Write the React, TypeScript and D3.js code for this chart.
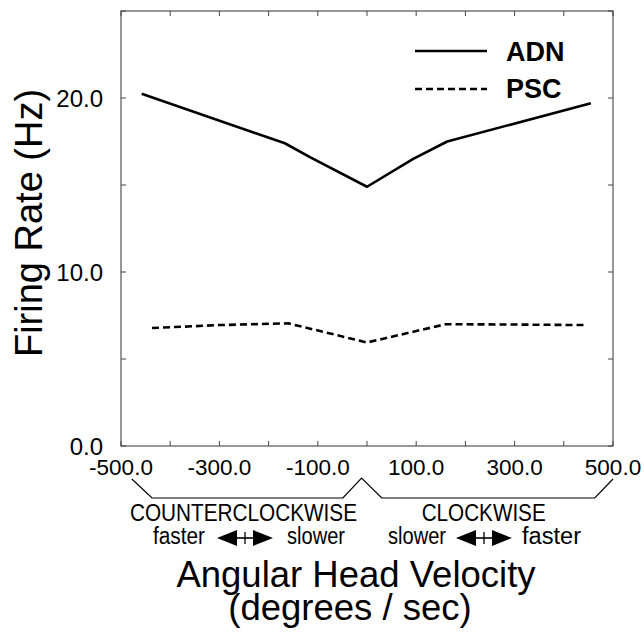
import React from 'react';
import { scaleLinear, line, range } from 'd3';

// firing rate vs angular head velocity
const velocityADN = [-458, -167, -116, 0, 94, 163, 455];
const rateADN = [20.25, 17.4, 16.6, 14.9, 16.5, 17.5, 19.7];

const velocityPSC = [-437, -300, -160, 0, 160, 300, 440];
const ratePSC = [6.78, 6.95, 7.05, 5.95, 7.0, 6.98, 6.95];

const xTickLabels = [-500, -300, -100, 100, 300, 500];
const yTickLabels = [0, 10, 20];

const W = 644, H = 634;
const font = 'Liberation Sans, Arial, Helvetica, sans-serif';

const App = () => {
  const xScale = scaleLinear().domain([-500, 500]).range([121, 613]);
  const yScale = scaleLinear().domain([0, 25]).range([446, 11]);

  const path = line<number>()
    .x(d => d[0])
    .y(d => d[1]);

  const adn = path(velocityADN.map((v, i) => [xScale(v), yScale(rateADN[i])]) as any);
  const psc = path(velocityPSC.map((v, i) => [xScale(v), yScale(ratePSC[i])]) as any);

  const [x0, x1] = xScale.range();
  const [y0, y1] = yScale.range();

  // bracket under the axis, in velocity units
  const bracket = [[-478, 479], [-437, 498], [-49, 498], [-11, 478], [30, 498], [463, 498], [500, 479]];
  const bracketPath = line<number[]>().x(d => xScale(d[0])).y(d => d[1])(bracket as any);

  const arrow = (cx: number, cy: number) => {
    const half = 28, head = 20, hh = 8;
    return (
      <g>
        <line x1={cx - half + head} x2={cx + half - head} y1={cy} y2={cy} stroke="black" strokeWidth={1.6} />
        <line x1={cx} x2={cx} y1={cy - 6} y2={cy + 6} stroke="black" strokeWidth={1.3} />
        <path d={`M${cx - half},${cy} L${cx - half + head},${cy - hh} L${cx - half + head},${cy + hh} Z`} fill="black" />
        <path d={`M${cx + half},${cy} L${cx + half - head},${cy - hh} L${cx + half - head},${cy + hh} Z`} fill="black" />
      </g>
    );
  };

  return (
    <svg width={W} height={H} style={{ position: 'absolute', left: 0, top: 0, background: 'white' }} fontFamily={font}>
      <rect x={0} y={0} width={W} height={H} fill="white" />

      {/* frame */}
      <rect x={x0} y={y1} width={x1 - x0} height={y0 - y1} fill="none" stroke="#444" strokeWidth={1.1} />

      {range(-500, 501, 100).map(v => (
        <g key={'xt' + v}>
          <line x1={xScale(v)} x2={xScale(v)} y1={y0} y2={y0 - 5} stroke="#444" strokeWidth={1} />
          <line x1={xScale(v)} x2={xScale(v)} y1={y1} y2={y1 + 5} stroke="#444" strokeWidth={1} />
        </g>
      ))}
      {range(0, 26, 5).map(v => (
        <g key={'yt' + v}>
          <line x1={x0} x2={x0 + 5} y1={yScale(v)} y2={yScale(v)} stroke="#444" strokeWidth={1} />
          <line x1={x1} x2={x1 - 5} y1={yScale(v)} y2={yScale(v)} stroke="#444" strokeWidth={1} />
        </g>
      ))}

      {yTickLabels.map(v => (
        <text key={'yl' + v} x={103} y={yScale(v) + 9} fontSize={24} textAnchor="end">{v.toFixed(1)}</text>
      ))}
      {xTickLabels.map(v => (
        <text key={'xl' + v} x={xScale(v)} y={475} fontSize={22.5} textAnchor="middle">{v.toFixed(1)}</text>
      ))}

      {/* series */}
      <path d={adn || ''} fill="none" stroke="black" strokeWidth={2.6} strokeLinejoin="round" />
      <path d={psc || ''} fill="none" stroke="black" strokeWidth={2.6} strokeDasharray="7,4" />

      {/* legend */}
      <line x1={415} x2={487} y1={51} y2={51} stroke="black" strokeWidth={2.6} />
      <text x={506} y={61} fontSize={27} fontWeight="bold">ADN</text>
      <line x1={415} x2={487} y1={89} y2={89} stroke="black" strokeWidth={2.4} strokeDasharray="7,4" />
      <text x={506} y={98} fontSize={27} fontWeight="bold">PSC</text>

      {/* direction annotation */}
      <path d={bracketPath || ''} fill="none" stroke="black" strokeWidth={1.2} />
      <text x={130} y={520.5} fontSize={23.5} textLength={227} lengthAdjust="spacingAndGlyphs">COUNTERCLOCKWISE</text>
      <text x={421.7} y={520.5} fontSize={23.5} textLength={124} lengthAdjust="spacingAndGlyphs">CLOCKWISE</text>
      <text x={153} y={544} fontSize={23} textLength={52} lengthAdjust="spacingAndGlyphs">faster</text>
      <text x={287} y={544} fontSize={23} textLength={58} lengthAdjust="spacingAndGlyphs">slower</text>
      <text x={388} y={544} fontSize={23} textLength={58} lengthAdjust="spacingAndGlyphs">slower</text>
      <text x={522} y={544} fontSize={23} textLength={59} lengthAdjust="spacingAndGlyphs">faster</text>
      {arrow(245, 538)}
      {arrow(484, 538)}

      {/* axis titles */}
      <text x={356} y={587} fontSize={36.5} textAnchor="middle">Angular Head Velocity</text>
      <text x={350} y={620} fontSize={36.5} textAnchor="middle">(degrees / sec)</text>
      <text transform="translate(42,223) rotate(-90)" fontSize={38} textAnchor="middle">Firing Rate (Hz)</text>
    </svg>
  );
};

export default App;
